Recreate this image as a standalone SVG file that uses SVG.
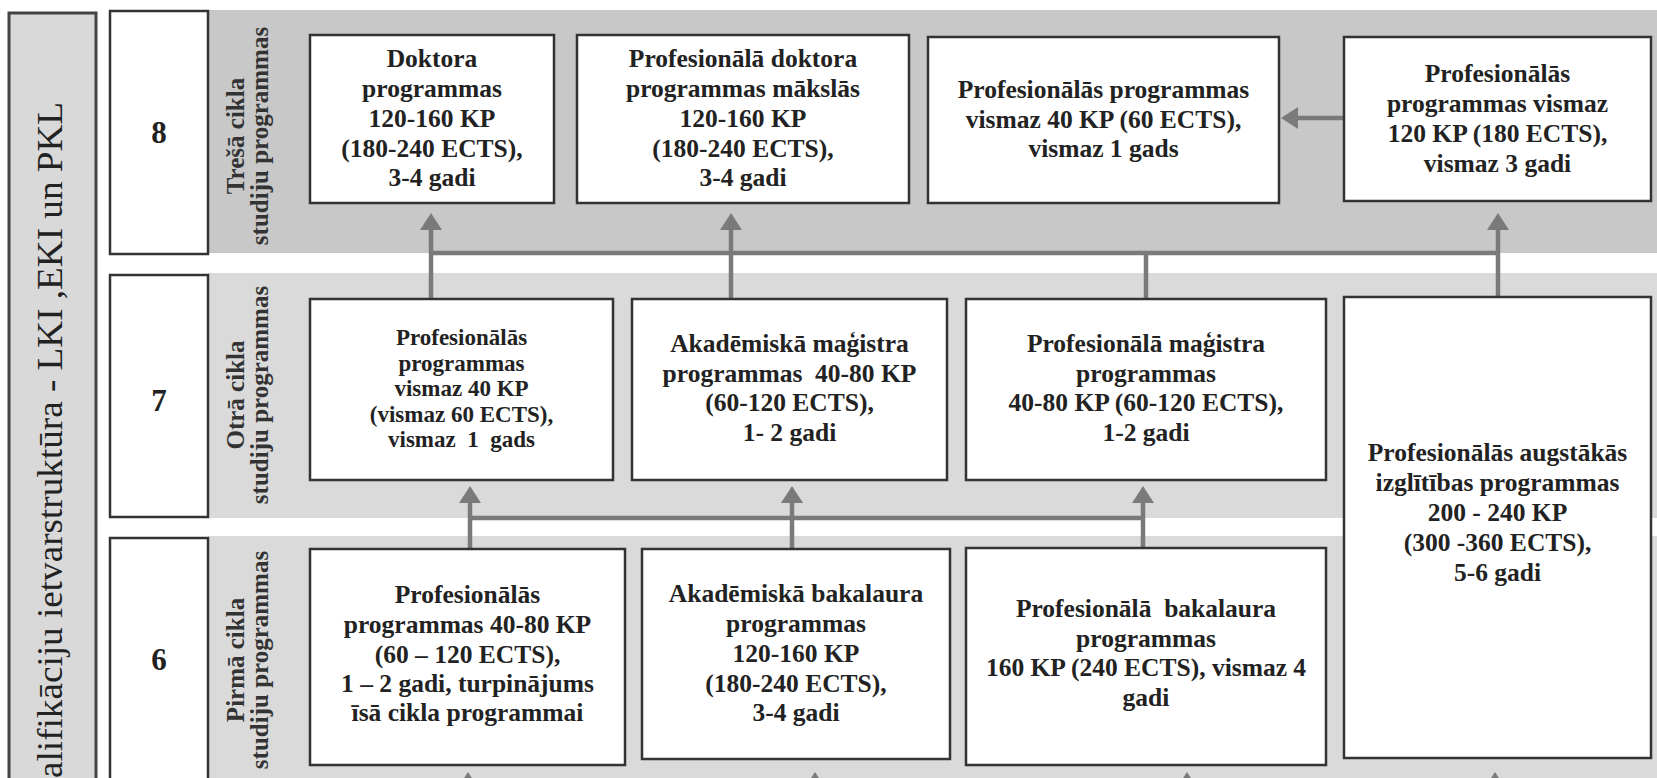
<svg xmlns="http://www.w3.org/2000/svg" width="1657" height="778" viewBox="0 0 1657 778">
<defs>
<style>
.box{fill:#fff;stroke:#333;stroke-width:2.5}
.t{font-family:"Liberation Serif","Times New Roman",serif;font-weight:bold;font-size:25.5px;fill:#222;text-anchor:middle}
.ts{font-size:23px}
.side{font-family:"Liberation Serif","Times New Roman",serif;font-weight:bold;font-size:25px;fill:#333;text-anchor:middle}
.num{font-family:"Liberation Serif","Times New Roman",serif;font-weight:bold;font-size:31px;fill:#222;text-anchor:middle}
.title{font-family:"Liberation Serif","Times New Roman",serif;font-size:36px;fill:#222;text-anchor:end}
.conn{fill:none;stroke:#7a7a7a;stroke-width:4.5}
</style>
<marker id="ah" markerUnits="userSpaceOnUse" markerWidth="17" markerHeight="22" refX="0" refY="11" orient="auto"><path d="M0,0 L17,11 L0,22 z" fill="#7a7a7a"/></marker>
</defs>
<rect x="0" y="0" width="1657" height="778" fill="#fff"/>
<g id="bands">
<rect x="208" y="10" width="1449" height="243" fill="#c8c8c8"/>
<rect x="208" y="273" width="1449" height="245" fill="#dadada"/>
<rect x="208" y="536" width="1449" height="250" fill="#dadada"/>
</g>
<g id="title">
<rect x="9" y="13" width="87" height="790" fill="#d9d9d9" stroke="#444" stroke-width="3"/>
<text class="title" transform="translate(62,102) rotate(-90)" x="0" y="0" textLength="676" lengthAdjust="spacingAndGlyphs">alifikāciju ietvarstruktūra - LKI ,EKI un PKL</text>
</g>
<g id="level8"><rect class="box" x="110" y="11" width="98" height="243"/><text class="num" x="159" y="143">8</text></g>
<g id="level7"><rect class="box" x="110" y="275" width="98" height="242"/><text class="num" x="159" y="411">7</text></g>
<g id="level6"><rect class="box" x="110" y="538" width="98" height="260"/><text class="num" x="159" y="670">6</text></g>
<g id="label8"><text class="side" transform="translate(244,136) rotate(-90)">Trešā cikla</text><text class="side" transform="translate(268,136) rotate(-90)">studiju programmas</text></g>
<g id="label7"><text class="side" transform="translate(244,395) rotate(-90)">Otrā cikla</text><text class="side" transform="translate(268,395) rotate(-90)">studiju programmas</text></g>
<g id="label6"><text class="side" transform="translate(244,660) rotate(-90)">Pirmā cikla</text><text class="side" transform="translate(268,660) rotate(-90)">studiju programmas</text></g>

<g id="connectors">
<path class="conn" d="M431,253 H1498"/>
<path class="conn" d="M431,299 V230" marker-end="url(#ah)"/>
<path class="conn" d="M731,299 V230" marker-end="url(#ah)"/>
<path class="conn" d="M1146,299 V253"/>
<path class="conn" d="M1498,297 V230" marker-end="url(#ah)"/>
<path class="conn" d="M1344,118 H1298" marker-end="url(#ah)"/>
<path class="conn" d="M470,518 H1143"/>
<path class="conn" d="M470,549 V503" marker-end="url(#ah)"/>
<path class="conn" d="M792,549 V503" marker-end="url(#ah)"/>
<path class="conn" d="M1143,548 V503" marker-end="url(#ah)"/>
<path class="conn" d="M468,800 V789" marker-end="url(#ah)"/>
<path class="conn" d="M815,800 V789" marker-end="url(#ah)"/>
<path class="conn" d="M1187,800 V789" marker-end="url(#ah)"/>
<path class="conn" d="M1495,800 V789" marker-end="url(#ah)"/>
</g>

<g id="doktora"><rect class="box" x="310" y="35" width="244" height="168"/>
<text class="t"><tspan x="432" y="67">Doktora</tspan><tspan x="432" y="97">programmas</tspan><tspan x="432" y="127">120-160 KP</tspan><tspan x="432" y="157">(180-240 ECTS),</tspan><tspan x="432" y="186">3-4 gadi</tspan></text></g>
<g id="prof-doktora"><rect class="box" x="577" y="35" width="332" height="168"/>
<text class="t"><tspan x="743" y="67">Profesionālā doktora</tspan><tspan x="743" y="97">programmas mākslās</tspan><tspan x="743" y="127">120-160 KP</tspan><tspan x="743" y="157">(180-240 ECTS),</tspan><tspan x="743" y="186">3-4 gadi</tspan></text></g>
<g id="prof-40"><rect class="box" x="928" y="37" width="351" height="166"/>
<text class="t"><tspan x="1103.5" y="98">Profesionālās programmas</tspan><tspan x="1103.5" y="128">vismaz 40 KP (60 ECTS),</tspan><tspan x="1103.5" y="157">vismaz 1 gads</tspan></text></g>
<g id="prof-120"><rect class="box" x="1344" y="37" width="307" height="164"/>
<text class="t"><tspan x="1497.5" y="82">Profesionālās</tspan><tspan x="1497.5" y="112">programmas vismaz</tspan><tspan x="1497.5" y="142">120 KP (180 ECTS),</tspan><tspan x="1497.5" y="172">vismaz 3 gadi</tspan></text></g>

<g id="prof-40-7"><rect class="box" x="310" y="299" width="303" height="181"/>
<text class="t ts" xml:space="preserve"><tspan x="461.5" y="345">Profesionālās</tspan><tspan x="461.5" y="370.5">programmas</tspan><tspan x="461.5" y="396">vismaz 40 KP</tspan><tspan x="461.5" y="421.5">(vismaz 60 ECTS),</tspan><tspan x="461.5" y="447">vismaz  1  gads</tspan></text></g>
<g id="akad-magistra"><rect class="box" x="632" y="299" width="315" height="181"/>
<text class="t" xml:space="preserve"><tspan x="789.5" y="352">Akadēmiskā maģistra</tspan><tspan x="789.5" y="382">programmas  40-80 KP</tspan><tspan x="789.5" y="411">(60-120 ECTS),</tspan><tspan x="789.5" y="441">1- 2 gadi</tspan></text></g>
<g id="prof-magistra"><rect class="box" x="966" y="299" width="360" height="181"/>
<text class="t"><tspan x="1146" y="352">Profesionālā maģistra</tspan><tspan x="1146" y="382">programmas</tspan><tspan x="1146" y="411">40-80 KP (60-120 ECTS),</tspan><tspan x="1146" y="441">1-2 gadi</tspan></text></g>
<g id="prof-augstakas"><rect class="box" x="1344" y="297" width="307" height="461"/>
<text class="t"><tspan x="1497.5" y="461">Profesionālās augstākās</tspan><tspan x="1497.5" y="491">izglītības programmas</tspan><tspan x="1497.5" y="521">200 - 240 KP</tspan><tspan x="1497.5" y="551">(300 -360 ECTS),</tspan><tspan x="1497.5" y="581">5-6 gadi</tspan></text></g>

<g id="prof-40-80"><rect class="box" x="310" y="549" width="315" height="216"/>
<text class="t"><tspan x="467.5" y="603">Profesionālās</tspan><tspan x="467.5" y="633">programmas 40-80 KP</tspan><tspan x="467.5" y="663">(60 – 120 ECTS),</tspan><tspan x="467.5" y="692">1 – 2 gadi, turpinājums</tspan><tspan x="467.5" y="721">īsā cikla programmai</tspan></text></g>
<g id="akad-bakalaura"><rect class="box" x="642" y="549" width="308" height="210"/>
<text class="t"><tspan x="796" y="602">Akadēmiskā bakalaura</tspan><tspan x="796" y="632">programmas</tspan><tspan x="796" y="662">120-160 KP</tspan><tspan x="796" y="692">(180-240 ECTS),</tspan><tspan x="796" y="721">3-4 gadi</tspan></text></g>
<g id="prof-bakalaura"><rect class="box" x="966" y="548" width="360" height="217"/>
<text class="t" xml:space="preserve"><tspan x="1146" y="617">Profesionālā  bakalaura</tspan><tspan x="1146" y="647">programmas</tspan><tspan x="1146" y="676">160 KP (240 ECTS), vismaz 4</tspan><tspan x="1146" y="706">gadi</tspan></text></g>
</svg>
